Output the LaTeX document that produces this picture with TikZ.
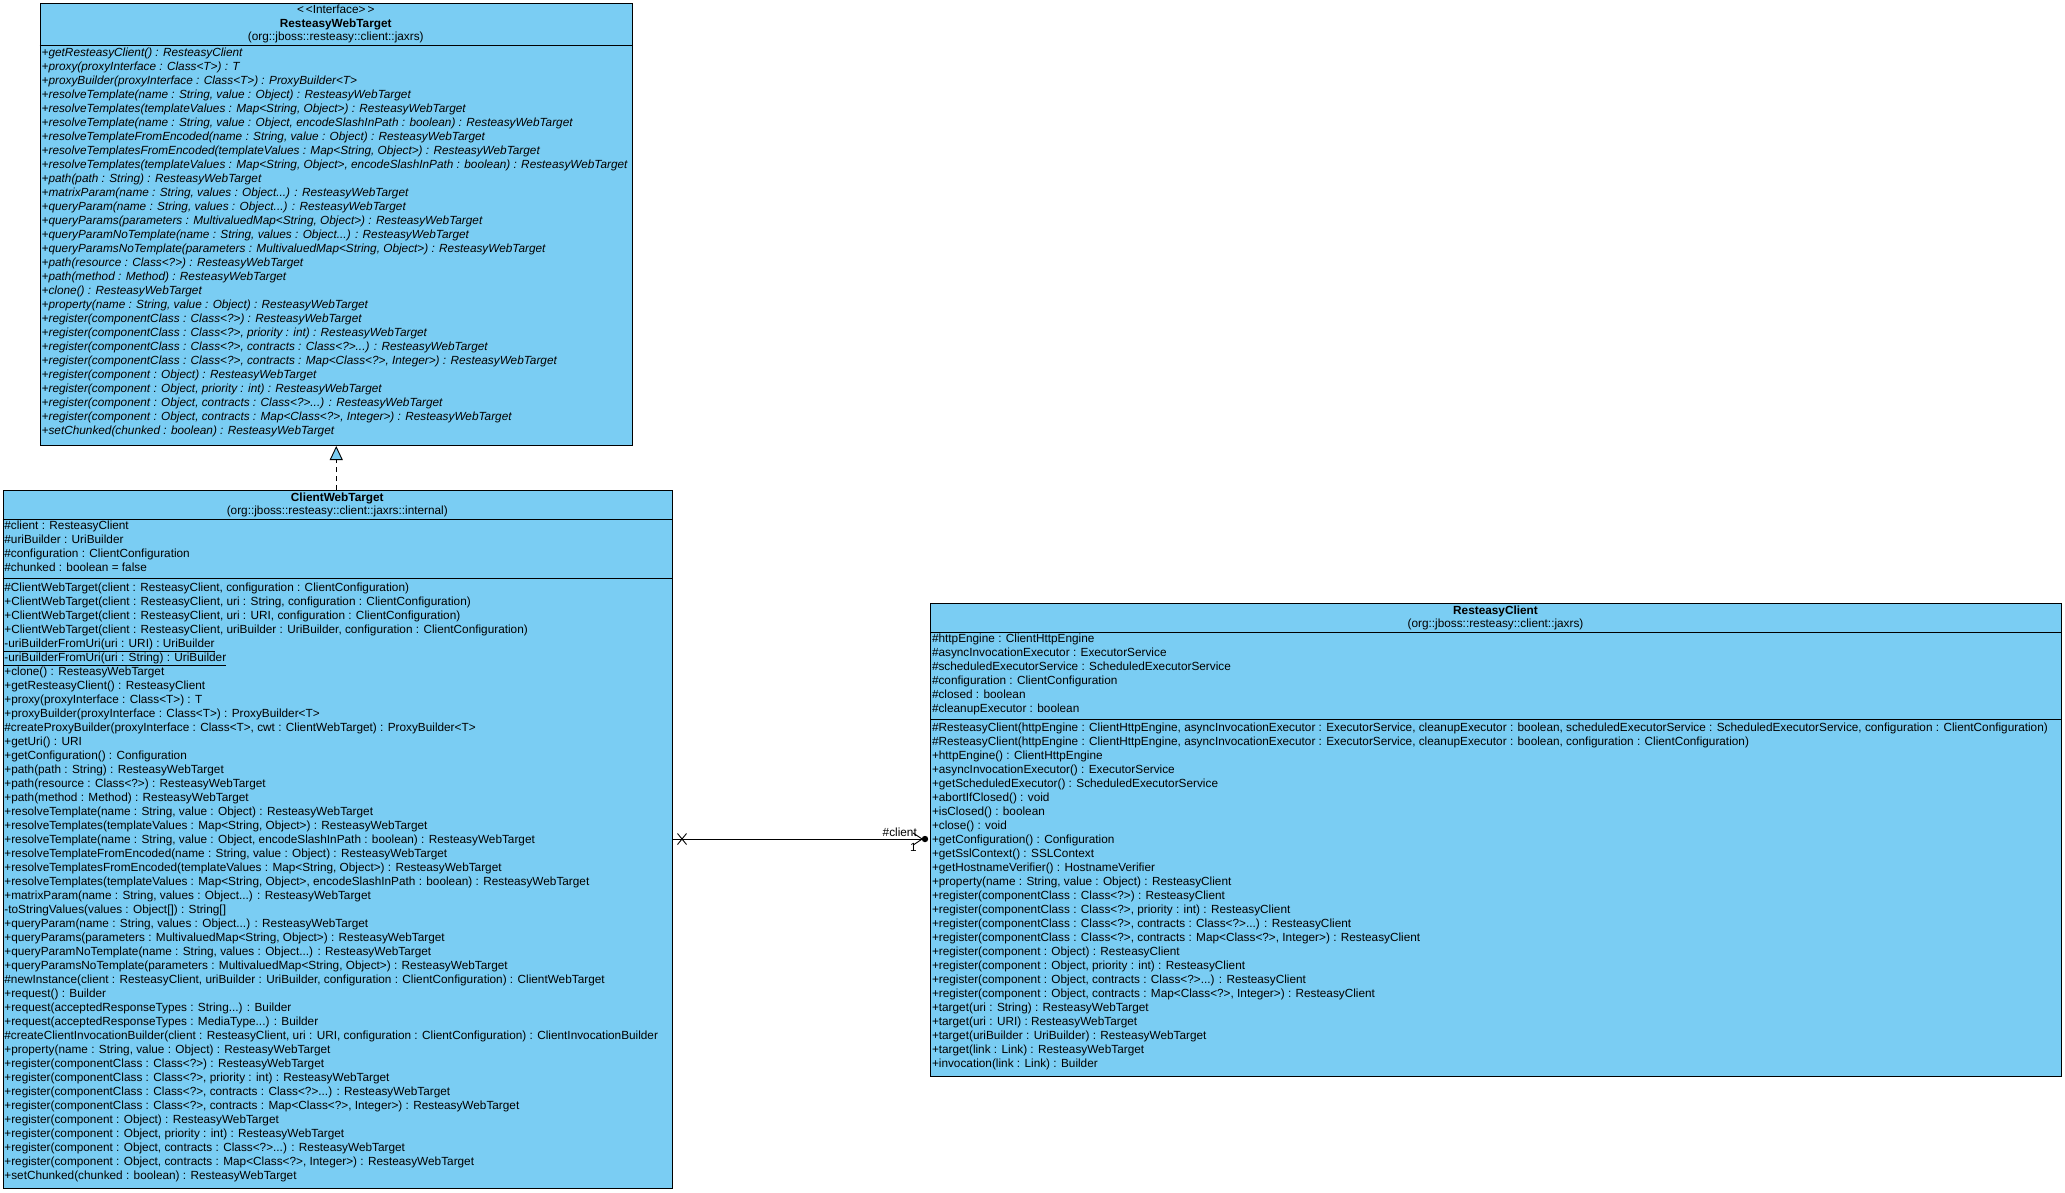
\documentclass[tikz,border=0pt]{standalone}
\usepackage{fontspec}
\setmainfont{Liberation Sans}
\usetikzlibrary{arrows.meta, positioning}
\definecolor{ClassBlue}{RGB}{122,205,243}
\newcommand{\vararg}{.\kern0pt.\kern0pt.}

\begin{document}
\begin{tikzpicture}[x=1pt, y=-1pt, font=\fontsize{11.8}{14}\selectfont,
	classbox/.style={draw, fill=ClassBlue, line width=1pt, inner sep=0pt, anchor=north west},
	member/.style={anchor=west, inner sep=0pt, text height=8.4pt, text depth=0pt},
	head/.style={inner sep=0pt, text height=8.4pt, text depth=0pt},
	realize/.style={line width=0.9pt, dash pattern=on 5pt off 4pt, -{Triangle[length=14pt, width=13pt, fill=ClassBlue]}},
	assoc/.style={line width=0.9pt, -{Straight Barb[length=9pt, width=12pt]}}]
	\useasboundingbox (0,0) rectangle (2065,1192);

	% ResteasyWebTarget
	\node[classbox, minimum width=592.5pt, minimum height=442.5pt] (rwt) at (39.5,2.5) {};
	\node[head] (rwtst) at (335.75,9.2) {<\,<Interface>\,>};
	\node[head, font=\fontsize{11.8}{14}\selectfont\bfseries] (rwtname) at (335.75,22.9) {ResteasyWebTarget};
	\node[head] (rwtpkg) at (335.75,36.7) {(org::jboss::resteasy::client::jaxrs)};
	\draw[line width=1pt] (39.5,45) -- (632,45);
	\foreach \m [count=\i] in {
		{+getResteasyClient() : ResteasyClient},
		{+proxy(proxyInterface : Class<T>) : T},
		{+proxyBuilder(proxyInterface : Class<T>) : ProxyBuilder<T>},
		{+resolveTemplate(name : String, value : Object) : ResteasyWebTarget},
		{+resolveTemplates(templateValues : Map<String, Object>) : ResteasyWebTarget},
		{+resolveTemplate(name : String, value : Object, encodeSlashInPath : boolean) : ResteasyWebTarget},
		{+resolveTemplateFromEncoded(name : String, value : Object) : ResteasyWebTarget},
		{+resolveTemplatesFromEncoded(templateValues : Map<String, Object>) : ResteasyWebTarget},
		{+resolveTemplates(templateValues : Map<String, Object>, encodeSlashInPath : boolean) : ResteasyWebTarget},
		{+path(path : String) : ResteasyWebTarget},
		{+matrixParam(name : String, values : Object\vararg) : ResteasyWebTarget},
		{+queryParam(name : String, values : Object\vararg) : ResteasyWebTarget},
		{+queryParams(parameters : MultivaluedMap<String, Object>) : ResteasyWebTarget},
		{+queryParamNoTemplate(name : String, values : Object\vararg) : ResteasyWebTarget},
		{+queryParamsNoTemplate(parameters : MultivaluedMap<String, Object>) : ResteasyWebTarget},
		{+path(resource : Class<?>) : ResteasyWebTarget},
		{+path(method : Method) : ResteasyWebTarget},
		{+clone() : ResteasyWebTarget},
		{+property(name : String, value : Object) : ResteasyWebTarget},
		{+register(componentClass : Class<?>) : ResteasyWebTarget},
		{+register(componentClass : Class<?>, priority : int) : ResteasyWebTarget},
		{+register(componentClass : Class<?>, contracts : Class<?>\vararg) : ResteasyWebTarget},
		{+register(componentClass : Class<?>, contracts : Map<Class<?>, Integer>) : ResteasyWebTarget},
		{+register(component : Object) : ResteasyWebTarget},
		{+register(component : Object, priority : int) : ResteasyWebTarget},
		{+register(component : Object, contracts : Class<?>\vararg) : ResteasyWebTarget},
		{+register(component : Object, contracts : Map<Class<?>, Integer>) : ResteasyWebTarget},
		{+setChunked(chunked : boolean) : ResteasyWebTarget}}{
		\node[member, font=\fontsize{11.8}{14}\selectfont\itshape] (rwtm\i) at (41.5,38.7+14*\i) {\m};
	}

	% ClientWebTarget
	\node[classbox, minimum width=669.4pt, minimum height=698pt] (cwt) at (2.6,490) {};
	\node[head, font=\fontsize{11.8}{14}\selectfont\bfseries] (cwtname) at (337.3,496.8) {ClientWebTarget};
	\node[head] (cwtpkg) at (337.3,510.3) {(org::jboss::resteasy::client::jaxrs::internal)};
	\draw[line width=1pt] (2.6,519) -- (672,519);
	\foreach \m [count=\i] in {
		{\#client : ResteasyClient},
		{\#uriBuilder : UriBuilder},
		{\#configuration : ClientConfiguration},
		{\#chunked : boolean = false}}{
		\node[member] (cwta\i) at (4.2,511.5+14*\i) {\m};
	}
	\draw[line width=1pt] (2.6,578) -- (672,578);
	\foreach \m [count=\i] in {
		{\#ClientWebTarget(client : ResteasyClient, configuration : ClientConfiguration)},
		{+ClientWebTarget(client : ResteasyClient, uri : String, configuration : ClientConfiguration)},
		{+ClientWebTarget(client : ResteasyClient, uri : URI, configuration : ClientConfiguration)},
		{+ClientWebTarget(client : ResteasyClient, uriBuilder : UriBuilder, configuration : ClientConfiguration)},
		{\underline{-uriBuilderFromUri(uri : URI) : UriBuilder}},
		{\underline{-uriBuilderFromUri(uri : String) : UriBuilder}},
		{+clone() : ResteasyWebTarget},
		{+getResteasyClient() : ResteasyClient},
		{+proxy(proxyInterface : Class<T>) : T},
		{+proxyBuilder(proxyInterface : Class<T>) : ProxyBuilder<T>},
		{\#createProxyBuilder(proxyInterface : Class<T>, cwt : ClientWebTarget) : ProxyBuilder<T>},
		{+getUri() : URI},
		{+getConfiguration() : Configuration},
		{+path(path : String) : ResteasyWebTarget},
		{+path(resource : Class<?>) : ResteasyWebTarget},
		{+path(method : Method) : ResteasyWebTarget},
		{+resolveTemplate(name : String, value : Object) : ResteasyWebTarget},
		{+resolveTemplates(templateValues : Map<String, Object>) : ResteasyWebTarget},
		{+resolveTemplate(name : String, value : Object, encodeSlashInPath : boolean) : ResteasyWebTarget},
		{+resolveTemplateFromEncoded(name : String, value : Object) : ResteasyWebTarget},
		{+resolveTemplatesFromEncoded(templateValues : Map<String, Object>) : ResteasyWebTarget},
		{+resolveTemplates(templateValues : Map<String, Object>, encodeSlashInPath : boolean) : ResteasyWebTarget},
		{+matrixParam(name : String, values : Object\vararg) : ResteasyWebTarget},
		{-toStringValues(values : Object[]) : String[]},
		{+queryParam(name : String, values : Object\vararg) : ResteasyWebTarget},
		{+queryParams(parameters : MultivaluedMap<String, Object>) : ResteasyWebTarget},
		{+queryParamNoTemplate(name : String, values : Object\vararg) : ResteasyWebTarget},
		{+queryParamsNoTemplate(parameters : MultivaluedMap<String, Object>) : ResteasyWebTarget},
		{\#newInstance(client : ResteasyClient, uriBuilder : UriBuilder, configuration : ClientConfiguration) : ClientWebTarget},
		{+request() : Builder},
		{+request(acceptedResponseTypes : String\vararg) : Builder},
		{+request(acceptedResponseTypes : MediaType\vararg) : Builder},
		{\#createClientInvocationBuilder(client : ResteasyClient, uri : URI, configuration : ClientConfiguration) : ClientInvocationBuilder},
		{+property(name : String, value : Object) : ResteasyWebTarget},
		{+register(componentClass : Class<?>) : ResteasyWebTarget},
		{+register(componentClass : Class<?>, priority : int) : ResteasyWebTarget},
		{+register(componentClass : Class<?>, contracts : Class<?>\vararg) : ResteasyWebTarget},
		{+register(componentClass : Class<?>, contracts : Map<Class<?>, Integer>) : ResteasyWebTarget},
		{+register(component : Object) : ResteasyWebTarget},
		{+register(component : Object, priority : int) : ResteasyWebTarget},
		{+register(component : Object, contracts : Class<?>\vararg) : ResteasyWebTarget},
		{+register(component : Object, contracts : Map<Class<?>, Integer>) : ResteasyWebTarget},
		{+setChunked(chunked : boolean) : ResteasyWebTarget}}{
		\node[member] (cwtm\i) at (4.2,573.4+14*\i) {\m};
	}

	% ResteasyClient
	\node[classbox, minimum width=1131pt, minimum height=473pt] (rc) at (930,603) {};
	\node[head, font=\fontsize{11.8}{14}\selectfont\bfseries] (rcname) at (1495.5,610) {ResteasyClient};
	\node[head] (rcpkg) at (1495.5,623.3) {(org::jboss::resteasy::client::jaxrs)};
	\draw[line width=1pt] (930,632) -- (2061,632);
	\foreach \m [count=\i] in {
		{\#httpEngine : ClientHttpEngine},
		{\#asyncInvocationExecutor : ExecutorService},
		{\#scheduledExecutorService : ScheduledExecutorService},
		{\#configuration : ClientConfiguration},
		{\#closed : boolean},
		{\#cleanupExecutor : boolean}}{
		\node[member] (rca\i) at (931.8,624.7+14*\i) {\m};
	}
	\draw[line width=1pt] (930,719) -- (2061,719);
	\foreach \m [count=\i] in {
		{\#ResteasyClient(httpEngine : ClientHttpEngine, asyncInvocationExecutor : ExecutorService, cleanupExecutor : boolean, scheduledExecutorService : ScheduledExecutorService, configuration : ClientConfiguration)},
		{\#ResteasyClient(httpEngine : ClientHttpEngine, asyncInvocationExecutor : ExecutorService, cleanupExecutor : boolean, configuration : ClientConfiguration)},
		{+httpEngine() : ClientHttpEngine},
		{+asyncInvocationExecutor() : ExecutorService},
		{+getScheduledExecutor() : ScheduledExecutorService},
		{+abortIfClosed() : void},
		{+isClosed() : boolean},
		{+close() : void},
		{+getConfiguration() : Configuration},
		{+getSslContext() : SSLContext},
		{+getHostnameVerifier() : HostnameVerifier},
		{+property(name : String, value : Object) : ResteasyClient},
		{+register(componentClass : Class<?>) : ResteasyClient},
		{+register(componentClass : Class<?>, priority : int) : ResteasyClient},
		{+register(componentClass : Class<?>, contracts : Class<?>\vararg) : ResteasyClient},
		{+register(componentClass : Class<?>, contracts : Map<Class<?>, Integer>) : ResteasyClient},
		{+register(component : Object) : ResteasyClient},
		{+register(component : Object, priority : int) : ResteasyClient},
		{+register(component : Object, contracts : Class<?>\vararg) : ResteasyClient},
		{+register(component : Object, contracts : Map<Class<?>, Integer>) : ResteasyClient},
		{+target(uri : String) : ResteasyWebTarget},
		{+target(uri : URI) : ResteasyWebTarget},
		{+target(uriBuilder : UriBuilder) : ResteasyWebTarget},
		{+target(link : Link) : ResteasyWebTarget},
		{+invocation(link : Link) : Builder}}{
		\node[member] (rcm\i) at (931.8,713+14*\i) {\m};
	}

	% connectors
	\draw[realize] (rwt.south |- cwt.north) -- (rwt.south);
	\draw[assoc] (cwt.east |- rcm9) -- ([xshift=-7pt]rc.west |- rcm9);
	\fill ([xshift=-5pt]rc.west |- rcm9) circle (3.2pt);
	\draw[line width=0.9pt] ([xshift=9pt]cwt.east |- rcm9) +(-4.5,-5.5) -- +(4.5,5.5) +(-4.5,5.5) -- +(4.5,-5.5);
	\node[anchor=base east, inner sep=0pt] (clientlbl) at ([xshift=-13pt, yshift=3pt]rc.west |- rcm9) {\#client};
	\node[anchor=base east, inner sep=0pt] (multlbl) at ([xshift=-13pt, yshift=-12.5pt]rc.west |- rcm9) {1};
\end{tikzpicture}
\end{document}
